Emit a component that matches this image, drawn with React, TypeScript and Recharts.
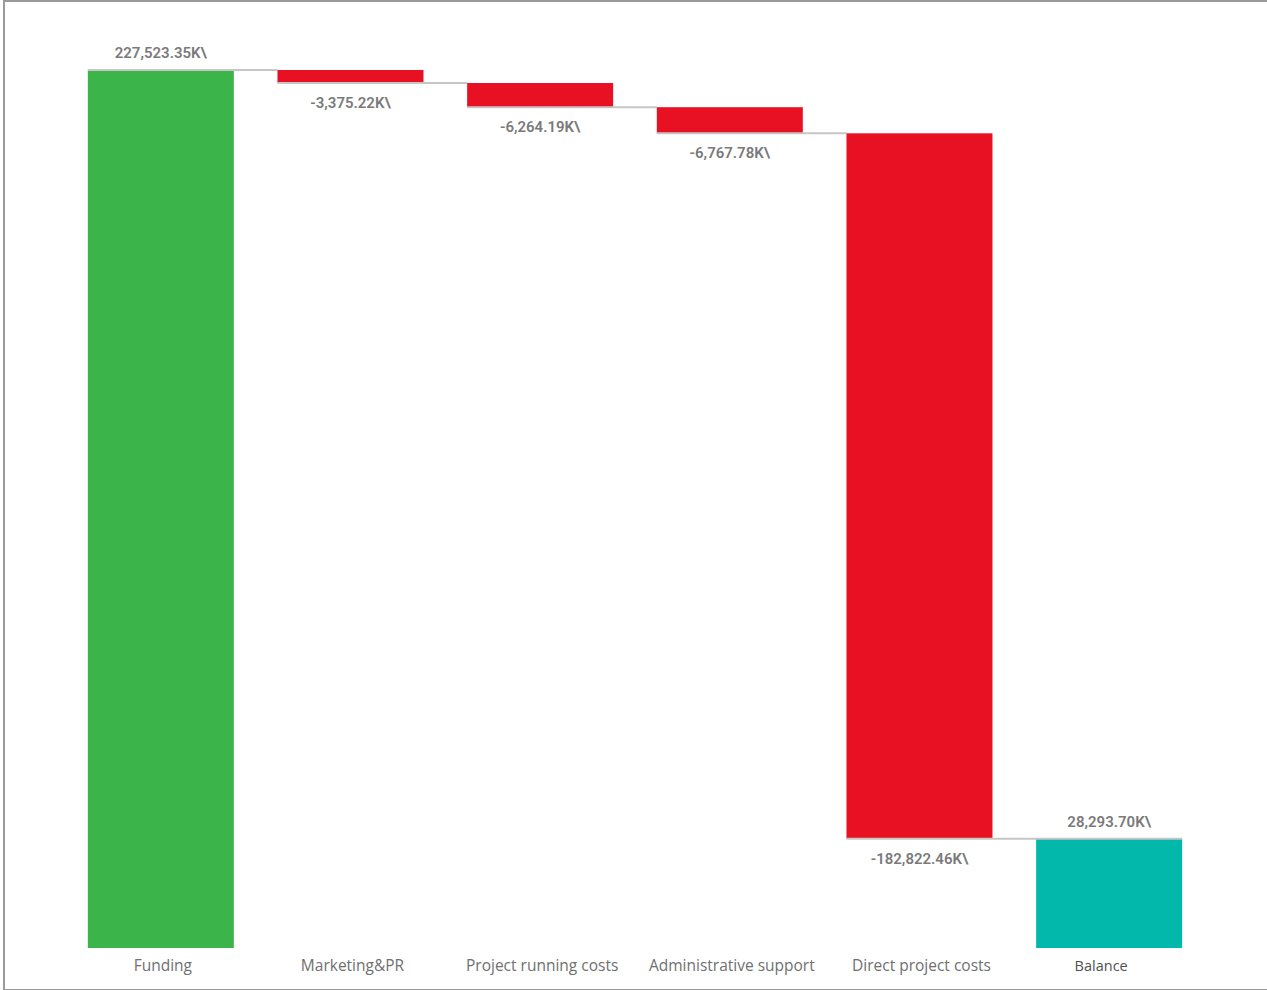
import React from 'react';
import { Bar, BarChart, LabelList, XAxis, YAxis } from 'recharts';

const categories = [
  'Funding',
  'Marketing&PR',
  'Project running costs',
  'Administrative support',
  'Direct project costs',
  'Balance',
];
const deltas = [227523.35, -3375.22, -6264.19, -6767.78, -182822.46, 28293.7];
const isTotal = [false, false, false, false, false, true];

const W = 1267;
const H = 990;
const MARGIN = { top: 70, right: 63, bottom: 12, left: 66 };
const STEP = (W - MARGIN.left - MARGIN.right) / categories.length;

const GREEN = '#3BB44A';
const RED = '#E81123';
const TEAL = '#01B8AA';

let running = 0;
const rows = categories.map((name, i) => {
  const d = deltas[i];
  let start = running;
  let end = running + d;
  if (isTotal[i]) {
    start = 0;
    end = d;
  }
  running = end;
  return {
    name,
    delta: d,
    total: isTotal[i],
    last: i === categories.length - 1,
    base: Math.min(start, end),
    size: Math.abs(end - start),
    endUp: end >= start,
  };
});

const fmt = (v: number) =>
  v.toLocaleString('en-US', { minimumFractionDigits: 2, maximumFractionDigits: 2 }) + 'K\\';

function StepBar(props: any) {
  const { x, y, width, height, payload } = props;
  const fill = payload.total ? TEAL : payload.delta >= 0 ? GREEN : RED;
  const lineY = payload.endUp ? y : y + height;
  return (
    <g>
      <rect x={x} y={y} width={width} height={height} fill={fill} />
      <line
        x1={x}
        x2={payload.last ? x + width : x + STEP}
        y1={lineY}
        y2={lineY}
        stroke="#c6c6c6"
        strokeWidth={2}
      />
    </g>
  );
}

function ValueLabel(props: any) {
  const { x, y, width, height, index } = props;
  const r = rows[index];
  const above = r.endUp;
  const ty = above ? y - 16 : y + height + 21;
  return (
    <text
      x={x + width / 2}
      y={ty}
      textAnchor="middle"
      dominantBaseline="middle"
      fontFamily="'Liberation Sans Narrow', 'Roboto', sans-serif"
      fontSize={15}
      fontWeight={600}
      fill="#7a7a7a"
    >
      {fmt(r.delta)}
    </text>
  );
}

function CategoryTick(props: any) {
  const { x, y, payload, index } = props;
  const total = rows[index]?.total;
  return (
    <text
      x={total ? x - 8 : x + 2}
      y={y + 11}
      textAnchor="middle"
      dominantBaseline="middle"
      fontFamily="'Open Sans', sans-serif"
      fontSize={total ? 14.5 : 15.5}
      fill={total ? '#505050' : '#707070'}
    >
      {payload.value}
    </text>
  );
}

export default function App() {
  return (
    <div style={{ position: 'absolute', left: 0, top: 0, width: W, height: H, background: '#fff' }}>
      <div
        style={{
          position: 'absolute',
          left: 3,
          top: 0,
          width: 1262,
          height: 987,
          borderTop: '2px solid #9a9a9a',
          borderLeft: '2px solid #9a9a9a',
          borderBottom: '2px solid #9a9a9a',
          borderRight: '1px solid #dcdcdc',
        }}
      />
      <div style={{ position: 'absolute', left: 0, top: 0 }}>
        <BarChart width={W} height={H} data={rows} margin={MARGIN} barCategoryGap="11.5%">
          <XAxis
            dataKey="name"
            height={30}
            axisLine={false}
            tickLine={false}
            interval={0}
            tick={<CategoryTick />}
          />
          <YAxis hide domain={[0, 227523.35]} />
          <Bar dataKey="base" stackId="w" fill="transparent" isAnimationActive={false} />
          <Bar dataKey="size" stackId="w" shape={<StepBar />} isAnimationActive={false}>
            <LabelList dataKey="size" content={<ValueLabel />} />
          </Bar>
        </BarChart>
      </div>
    </div>
  );
}
